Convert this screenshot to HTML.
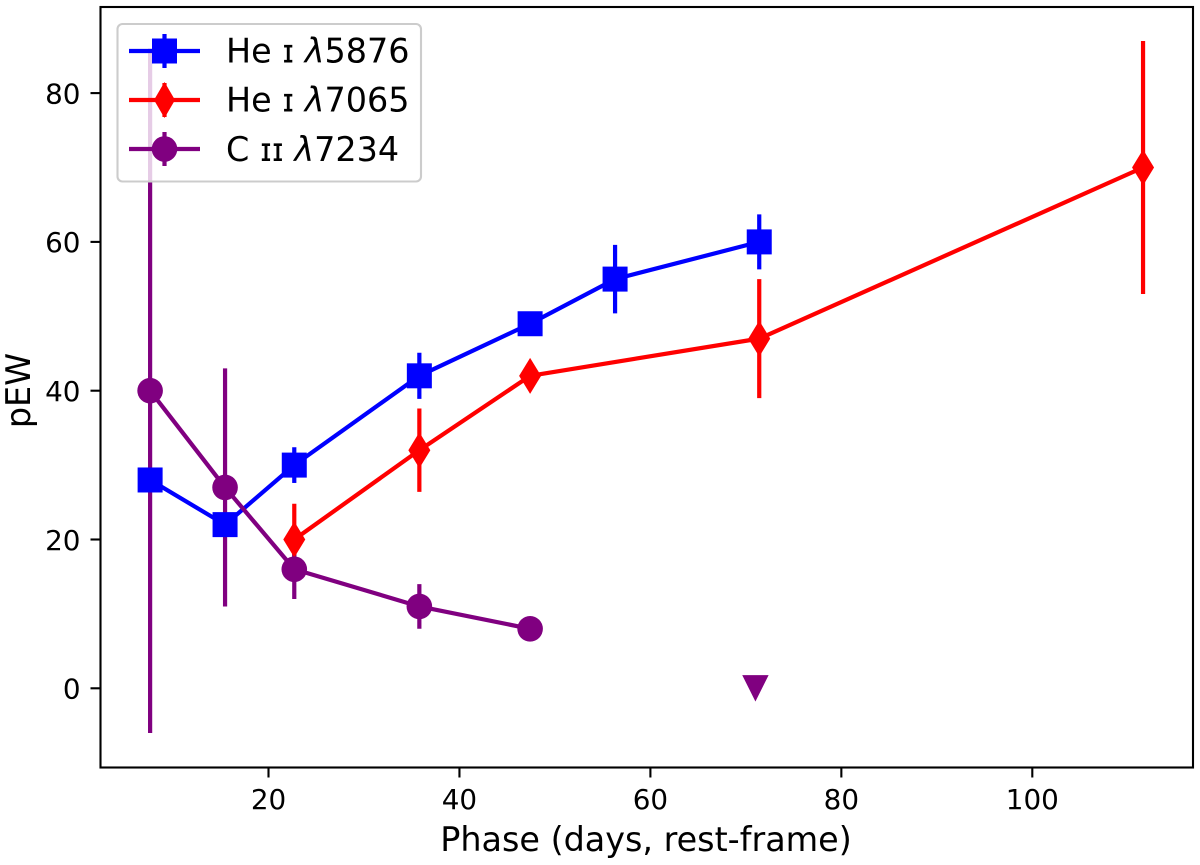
<!DOCTYPE html>
<html lang="en">
<head>
<meta charset="utf-8">
<title>pEW vs Phase</title>
<style>
html,body{margin:0;padding:0;background:#fff;width:1200px;height:865px;overflow:hidden}
svg{display:block}
text{font-family:"DejaVu Sans","Liberation Sans",sans-serif;fill:#000}
</style>
</head>
<body>
<svg id="chart" xmlns="http://www.w3.org/2000/svg" width="1200" height="865" viewBox="0 0 1200 865">
<rect x="0" y="0" width="1200" height="865" fill="#fff"/>
<g id="errors"></g>
<g id="marks"></g>
<g id="axes"></g>
<g>
  <rect x="117.5" y="24" width="303.5" height="157.5" rx="5" ry="5" fill="#fff" fill-opacity="0.8" stroke="#ccc" stroke-width="2.1"/>
  <g>
    <line x1="164.5" y1="34" x2="164.5" y2="68" stroke="#0000ff" stroke-width="4.2"/>
    <line x1="129" y1="51" x2="200" y2="51" stroke="#0000ff" stroke-width="4.2"/>
    <rect x="152" y="38.500" width="25" height="25" fill="#0000ff"/>
    <text x="226" y="62.500" font-size="33.4">He <tspan font-size="32">ɪ</tspan> <tspan font-style="italic">λ</tspan>5876</text>
  </g>
  <g>
    <line x1="164.5" y1="83" x2="164.5" y2="117" stroke="#ff0000" stroke-width="4.2"/>
    <line x1="129" y1="100" x2="200" y2="100" stroke="#ff0000" stroke-width="4.2"/>
    <polygon points="164.5,82 175,100 164.500,118 154,100" fill="#ff0000"/>
    <text x="226" y="111.500" font-size="33.4">He <tspan font-size="32">ɪ</tspan> <tspan font-style="italic">λ</tspan>7065</text>
  </g>
  <g>
    <line x1="164.5" y1="132" x2="164.5" y2="166" stroke="#800080" stroke-width="4.2"/>
    <line x1="129" y1="149" x2="200" y2="149" stroke="#800080" stroke-width="4.2"/>
    <circle cx="164.5" cy="149" r="12.800" fill="#800080"/>
    <text x="226" y="161" font-size="33.4">C <tspan font-size="32">ɪɪ</tspan> <tspan font-style="italic">λ</tspan>7234</text>
  </g>
</g>
</svg>
<script>
// Chart data
const xTickLabels = [20, 40, 60, 80, 100];
const yTickLabels = [0, 20, 40, 60, 80];

const he5876Phase = [7.6, 15.45, 22.7, 35.8, 47.4, 56.3, 71.4];
const he5876Pew   = [28, 22, 30, 42, 49, 55, 60];
const he5876Err   = [1.5, 1.5, 2.4, 3.1, 1.2, 4.6, 3.7];

const he7065Phase = [22.7, 35.8, 47.4, 71.4, 111.6];
const he7065Pew   = [20, 32, 42, 47, 70];
const he7065Err   = [4.8, 5.6, 1.5, 8, 17];

const c7234Phase = [7.6, 15.45, 22.7, 35.8, 47.4];
const c7234Pew   = [40, 27, 16, 11, 8];
const c7234Err   = [46, 16, 4, 3, 1];

const limitPhase = [71];
const limitPew   = [0];

// Axis functions
function xScale(v) { return 268.5 + (v - 20) * 9.5475; }
function yScale(v) { return 688.3 - v * 7.44; }

const NS = 'http://www.w3.org/2000/svg';
const errorLayer = document.getElementById('errors');
const marksLayer = document.getElementById('marks');
const axesLayer = document.getElementById('axes');

function make(tag, attrs, parent) {
  const el = document.createElementNS(NS, tag);
  for (const k in attrs) el.setAttribute(k, attrs[k]);
  parent.appendChild(el);
  return el;
}

function drawSeries(key, colour, phase, pew, err, markerKind) {
  phase.forEach(function (p, i) {
    const bar = make('line', {
      x1: xScale(p), x2: xScale(p),
      y1: yScale(pew[i] + err[i]), y2: yScale(pew[i] - err[i]),
      stroke: colour, 'stroke-width': 4.2
    }, errorLayer);
    
    
  });

  const group = make('g', {}, marksLayer);
  
  

  const pts = phase.map(function (p, i) { return xScale(p) + ',' + yScale(pew[i]); }).join(' ');
  const line = make('polyline', {
    points: pts, fill: 'none', stroke: colour, 'stroke-width': 4.2, 'stroke-linejoin': 'round'
  }, group);
  
  

  phase.forEach(function (p, i) {
    const cx = xScale(p), cy = yScale(pew[i]);
    let m;
    if (markerKind === 'square') {
      m = make('rect', { x: cx - 12.5, y: cy - 12.5, width: 25, height: 25, fill: colour }, group);
    } else if (markerKind === 'diamond') {
      m = make('polygon', {
        points: [cx, cy - 18, cx + 11, cy, cx, cy + 18, cx - 11, cy].join(' '), fill: colour
      }, group);
    } else {
      m = make('circle', { cx: cx, cy: cy, r: 12.8, fill: colour }, group);
    }
    
    
  });
}

drawSeries('he-5876', '#0000ff', he5876Phase, he5876Pew, he5876Err, 'square');
drawSeries('he-7065', '#ff0000', he7065Phase, he7065Pew, he7065Err, 'diamond');
drawSeries('c-7234', '#800080', c7234Phase, c7234Pew, c7234Err, 'circle');

limitPhase.forEach(function (p, i) {
  const cx = xScale(p), cy = yScale(limitPew[i]);
  const tri = make('polygon', {
    points: [cx - 13.2, cy - 13.2, cx + 13.2, cy - 13.2, cx, cy + 13.2].join(' '), fill: '#800080'
  }, marksLayer);
  
  
});

// Axes
const frame = make('rect', {
  x: 100.5, y: 7, width: 1092.500, height: 760.5, fill: 'none', stroke: '#000', 'stroke-width': 2.1
}, axesLayer);



xTickLabels.forEach(function (v) {
  const x = xScale(v);
  const tick = make('line', { x1: x, x2: x, y1: 767.5, y2: 777.5, stroke: '#000', 'stroke-width': 2.1 }, axesLayer);
  
  
  const label = make('text', { x: x, y: 809, 'font-size': 27.8, 'text-anchor': 'middle' }, axesLayer);
  label.textContent = v;
  
  
});

yTickLabels.forEach(function (v) {
  const y = yScale(v);
  const tick = make('line', { x1: 90.5, x2: 100.5, y1: y, y2: y, stroke: '#000', 'stroke-width': 2.1 }, axesLayer);
  
  
  const label = make('text', { x: 80.5, y: y + 10.3, 'font-size': 27.8, 'text-anchor': 'end' }, axesLayer);
  label.textContent = v;
  
  
});

const xTitle = make('text', { x: 646, y: 851, 'font-size': 33.4, 'text-anchor': 'middle' }, axesLayer);
xTitle.textContent = 'Phase (days, rest-frame)';



const yTitle = make('text', { 'font-size': 33.4, 'text-anchor': 'middle', transform: 'translate(30 390.500) rotate(-90)' }, axesLayer);
yTitle.textContent = 'pEW';


</script>
</body>
</html>
